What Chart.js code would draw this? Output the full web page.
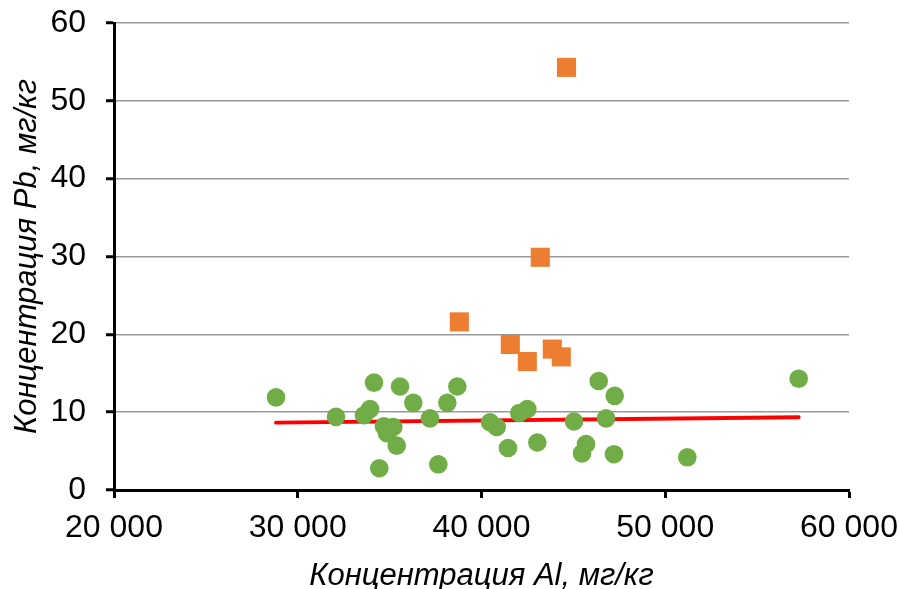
<!DOCTYPE html>
<html>
<head>
<meta charset="utf-8">
<script src="https://cdn.jsdelivr.net/npm/chart.js@4/dist/chart.umd.min.js"></script>
<style>
  html, body { margin: 0; padding: 0; background: #fff; }
  #wrap { width: 899px; height: 589px; }
</style>
</head>
<body>
<div id="wrap"><canvas id="c"></canvas></div>
<script>
// Al (mg/kg) vs Pb (mg/kg) - main group
const normalAl = [28816, 32082, 33605, 33932, 34150, 34438, 34694, 35200, 34857, 35385,
                  35565, 36288, 37197, 37649, 38139, 38683, 40463, 40827, 41442, 42057,
                  42493, 43037, 45034, 45469, 45687, 46378, 46776, 47249, 47211, 51200, 57262];
const normalPb = [11.9, 9.4, 9.6, 10.4, 13.8, 2.8, 8.2, 8.1, 7.3, 5.7,
                  13.3, 11.2, 9.2, 3.3, 11.2, 13.3, 8.7, 8.1, 5.4, 9.9,
                  10.4, 6.1, 8.8, 4.7, 5.9, 14.0, 9.2, 12.1, 4.6, 4.2, 14.3];

// anomalous samples
const anomAl = [44626, 43198, 38793, 41567, 42492, 43853, 44343];
const anomPb = [54.3, 29.9, 21.6, 18.7, 16.5, 18.1, 17.1];

// linear trend for main group (end points)
const trendAl = [28816, 57262];
const trendPb = [8.65, 9.35];

const xTicks = [20000, 30000, 40000, 50000, 60000];
const yTicks = [0, 10, 20, 30, 40, 50, 60];

const toXY = (xs, ys) => xs.map((x, i) => ({x, y: ys[i]}));
const fmt = v => String(v).replace(/\B(?=(\d{3})+(?!\d))/g, ' ');

new Chart(document.getElementById('c'), {
    type: 'scatter',
    data: {
        datasets: [
            {
                data: toXY(normalAl, normalPb),
                backgroundColor: '#70AD47',
                borderWidth: 0,
                pointRadius: 9.3,
                pointHoverRadius: 9.3,
                order: 1
            },
            {
                data: toXY(anomAl, anomPb),
                backgroundColor: '#ED7D31',
                borderWidth: 0,
                pointStyle: 'rect',
                pointRadius: 13.5,
                pointHoverRadius: 13.5,
                order: 2
            },
            {
                type: 'line',
                data: toXY(trendAl, trendPb),
                borderColor: '#FF0000',
                borderWidth: 3.8,
                borderCapStyle: 'round',
                pointRadius: 0,
                fill: false,
                order: 3
            }
        ]
    },
    options: {
        responsive: true,
        maintainAspectRatio: false,
        animation: false,
        layout: { padding: { top: 23, right: 50, left: 0, bottom: 0 } },
        plugins: { legend: { display: false }, tooltip: { enabled: false } },
        scales: {
            x: {
                type: 'linear',
                min: 20000, max: 60000,
                afterBuildTicks: s => { s.ticks = xTicks.map(v => ({value: v})); },
                afterFit: s => { s.height = 99; s.paddingLeft = 0; s.paddingRight = 0; },
                border: { color: '#000', width: 3 },
                grid: { drawOnChartArea: false, tickLength: 8, tickColor: '#000', tickWidth: 3 },
                ticks: {
                    color: '#000', padding: 11,
                    font: { family: 'Liberation Sans, Arial', size: 32 },
                    callback: v => fmt(v)
                },
                title: {
                    display: true,
                    text: 'Концентрация Al, мг/кг',
                    color: '#000',
                    font: { family: 'Liberation Sans, Arial', size: 31, style: 'italic' },
                    padding: { top: 0, bottom: -6 }
                }
            },
            y: {
                min: 0, max: 60,
                afterBuildTicks: s => { s.ticks = yTicks.map(v => ({value: v})); },
                afterFit: s => { s.width = 114; s.paddingTop = 0; s.paddingBottom = 0; },
                border: { color: '#000', width: 3 },
                grid: { color: '#999', lineWidth: 1.5, tickLength: 8, tickColor: '#000', tickWidth: 3 },
                ticks: {
                    color: '#000', padding: 20,
                    font: { family: 'Liberation Sans, Arial', size: 32 }
                },
                title: {
                    display: true,
                    text: 'Концентрация Pb, мг/кг',
                    color: '#000',
                    font: { family: 'Liberation Sans, Arial', size: 31, style: 'italic' },
                    padding: { top: 9, bottom: 0 }
                }
            }
        }
    }
});
</script>
</body>
</html>
